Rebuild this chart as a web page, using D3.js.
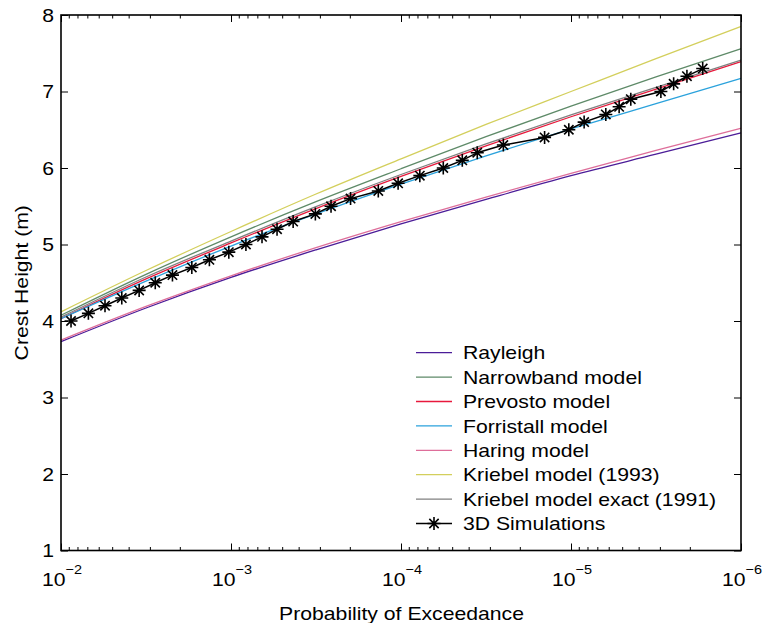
<!DOCTYPE html>
<html>
<head>
<meta charset="utf-8">
<script src="https://cdn.jsdelivr.net/npm/d3@7/dist/d3.min.js"></script>
<style>
  body { margin: 0; background: #fff; }
  svg { display: block; }
  text { font-family: "Liberation Sans", Arial, Helvetica, sans-serif; fill: #000; }
</style>
</head>
<body>
<svg id="chart" width="763" height="623"></svg>
<script>
// probability grid shared by the model curves (half decades)
const probGrid = [1e-2, 3.162e-3, 1e-3, 3.162e-4, 1e-4, 3.162e-5, 1e-5, 3.162e-6, 1e-6];

const rayleigh     = [3.73, 4.17, 4.57, 4.93, 5.27, 5.59, 5.90, 6.18, 6.46];
const narrowband   = [4.075, 4.61, 5.10, 5.56, 5.99, 6.41, 6.81, 7.19, 7.56];
const prevosto     = [4.03, 4.55, 5.02, 5.47, 5.89, 6.29, 6.67, 7.03, 7.39];
const forristall   = [4.03, 4.52, 4.98, 5.40, 5.79, 6.16, 6.51, 6.84, 7.17];
const haring       = [3.75, 4.19, 4.59, 4.96, 5.30, 5.62, 5.93, 6.23, 6.52];
const kriebel93    = [4.12, 4.66, 5.17, 5.66, 6.12, 6.57, 7.00, 7.43, 7.85];
const kriebelExact = [4.05, 4.575, 5.045, 5.495, 5.915, 6.315, 6.695, 7.055, 7.41];

// 3D simulations: exceedance probability for each crest height
const simProb = [8.73e-3, 6.90e-3, 5.51e-3, 4.39e-3, 3.47e-3, 2.79e-3, 2.21e-3, 1.70e-3, 1.34e-3, 1.03e-3,
                 8.17e-4, 6.57e-4, 5.36e-4, 4.31e-4, 3.19e-4, 2.58e-4, 1.98e-4, 1.36e-4, 1.04e-4, 7.75e-5,
                 5.64e-5, 4.36e-5, 3.56e-5, 2.50e-5, 1.43e-5, 1.03e-5, 8.37e-6, 6.24e-6, 5.21e-6, 4.45e-6,
                 2.96e-6, 2.49e-6, 2.08e-6, 1.68e-6];
const simHeight = [4.0, 4.1, 4.2, 4.3, 4.4, 4.5, 4.6, 4.7, 4.8, 4.9,
                   5.0, 5.1, 5.2, 5.3, 5.4, 5.5, 5.6, 5.7, 5.8, 5.9,
                   6.0, 6.1, 6.2, 6.3, 6.4, 6.5, 6.6, 6.7, 6.8, 6.9,
                   7.0, 7.1, 7.2, 7.3];

const xMajor = [1e-2, 1e-3, 1e-4, 1e-5, 1e-6];
const xExp = [-2, -3, -4, -5, -6];
const yTicks = [1, 2, 3, 4, 5, 6, 7, 8];

const series = [
  { name: "Rayleigh", values: rayleigh, color: "#4b1c98" },
  { name: "Narrowband model", values: narrowband, color: "#5e8a68" },
  { name: "Prevosto model", values: prevosto, color: "#e8193c" },
  { name: "Forristall model", values: forristall, color: "#2ba2dc" },
  { name: "Haring model", values: haring, color: "#de6e9a" },
  { name: "Kriebel model (1993)", values: kriebel93, color: "#d3cf5c" },
  { name: "Kriebel model exact (1991)", values: kriebelExact, color: "#808080" }
];

const plotL = 61, plotR = 741, plotT = 15, plotB = 550.5;
const stretch = 1.115;  // glyphs in the picture run a bit wide

const svg = d3.select("#chart");

const x = d3.scaleLog().domain([1e-2, 1e-6]).range([plotL, plotR]);
const y = d3.scaleLinear().domain([1, 8]).range([plotB, plotT]);

// minor ticks 2..9 of each decade
const xMinor = [];
xMajor.slice(1).forEach(d => {
  for (let m = 2; m <= 9; m++) xMinor.push(d * m);
});

function tickAxis(axis, values, size, tx, ty) {
  const g = svg.append("g")
    .attr("transform", "translate(" + tx + "," + ty + ")")
    .call(axis.tickValues(values).tickSize(size).tickFormat(""));
  g.select(".domain").remove();
  g.selectAll("line").attr("stroke", "#000").attr("stroke-width", 1);
  return g;
}

// ticks on all four sides, pointing inwards
tickAxis(d3.axisBottom(x), xMajor, -7, 0, plotB);
tickAxis(d3.axisBottom(x), xMinor, -3.5, 0, plotB);
tickAxis(d3.axisTop(x), xMajor, -7, 0, plotT);
tickAxis(d3.axisTop(x), xMinor, -3.5, 0, plotT);
tickAxis(d3.axisLeft(y), yTicks, -7, plotL, 0);
tickAxis(d3.axisRight(y), yTicks, -7, plotR, 0);

const line = d3.line()
  .x(d => x(d[0]))
  .y(d => y(d[1]))
  .curve(d3.curveMonotoneX);

series.forEach(s => {
  svg.append("path")
    .datum(probGrid.map((p, i) => [p, s.values[i]]))
    .attr("fill", "none")
    .attr("stroke", s.color)
    .attr("stroke-width", 1.3)
    .attr("d", line);
});

const simData = simProb.map((p, i) => [p, simHeight[i]]);

svg.append("path")
  .datum(simData)
  .attr("fill", "none")
  .attr("stroke", "#000")
  .attr("stroke-width", 1.5)
  .attr("d", d3.line().x(d => x(d[0])).y(d => y(d[1])));

function asterisk(r) {
  const d = r * 0.72;
  return "M0," + (-r) + "L0," + r + "M" + (-r) + ",0L" + r + ",0" +
    "M" + (-d) + "," + (-d) + "L" + d + "," + d + "M" + (-d) + "," + d + "L" + d + "," + (-d);
}

svg.append("g").selectAll("path")
  .data(simData)
  .join("path")
  .attr("transform", d => "translate(" + x(d[0]) + "," + y(d[1]) + ")")
  .attr("d", asterisk(6.5))
  .attr("fill", "none")
  .attr("stroke", "#000")
  .attr("stroke-width", 1.6);

// plot box
svg.append("rect")
  .attr("x", plotL).attr("y", plotT)
  .attr("width", plotR - plotL).attr("height", plotB - plotT)
  .attr("fill", "none").attr("stroke", "#000").attr("stroke-width", 1.6);

function label(tx, ty, str, anchor, size) {
  const g = svg.append("g")
    .attr("transform", "translate(" + tx + "," + ty + ") scale(" + stretch + ",1)");
  return g.append("text")
    .attr("text-anchor", anchor)
    .attr("font-size", size)
    .text(str);
}

// y tick labels
yTicks.forEach(v => {
  label(54, y(v) + 6.8, v, "end", 19);
});

// x tick labels 10^n
xMajor.forEach((v, i) => {
  const g = svg.append("g")
    .attr("transform", "translate(" + (x(v) + 1) + ",586) scale(" + stretch + ",1)");
  const t = g.append("text").attr("text-anchor", "middle").attr("font-size", 19);
  t.append("tspan").text("10");
  t.append("tspan").attr("dy", -11.7).attr("font-size", 13).text("\u2212" + (-xExp[i]));
});

// axis titles
label((plotL + plotR) / 2 + 0.5, 620, "Probability of Exceedance", "middle", 19);
svg.append("g")
  .attr("transform", "translate(28," + ((plotT + plotB) / 2) + ") rotate(-90) scale(" + stretch + ",1)")
  .append("text")
  .attr("text-anchor", "middle")
  .attr("font-size", 19)
  .text("Crest Height (m)");

// legend
const legX = 416, legY = 352.7, legStep = 24.4;
const legendItems = series.map(s => ({ name: s.name, color: s.color, sim: false }))
  .concat([{ name: "3D Simulations", color: "#000", sim: true }]);

legendItems.forEach((it, i) => {
  const yy = legY + i * legStep;
  svg.append("line")
    .attr("x1", legX).attr("x2", legX + 36)
    .attr("y1", yy).attr("y2", yy)
    .attr("stroke", it.color)
    .attr("stroke-width", it.sim ? 1.5 : 1.3);
  if (it.sim) {
    svg.append("path")
      .attr("transform", "translate(" + (legX + 18) + "," + yy + ")")
      .attr("d", asterisk(6.5))
      .attr("fill", "none").attr("stroke", "#000").attr("stroke-width", 1.6);
  }
  label(463, yy + 6.7, it.name, "start", 19);
});
</script>
</body>
</html>
